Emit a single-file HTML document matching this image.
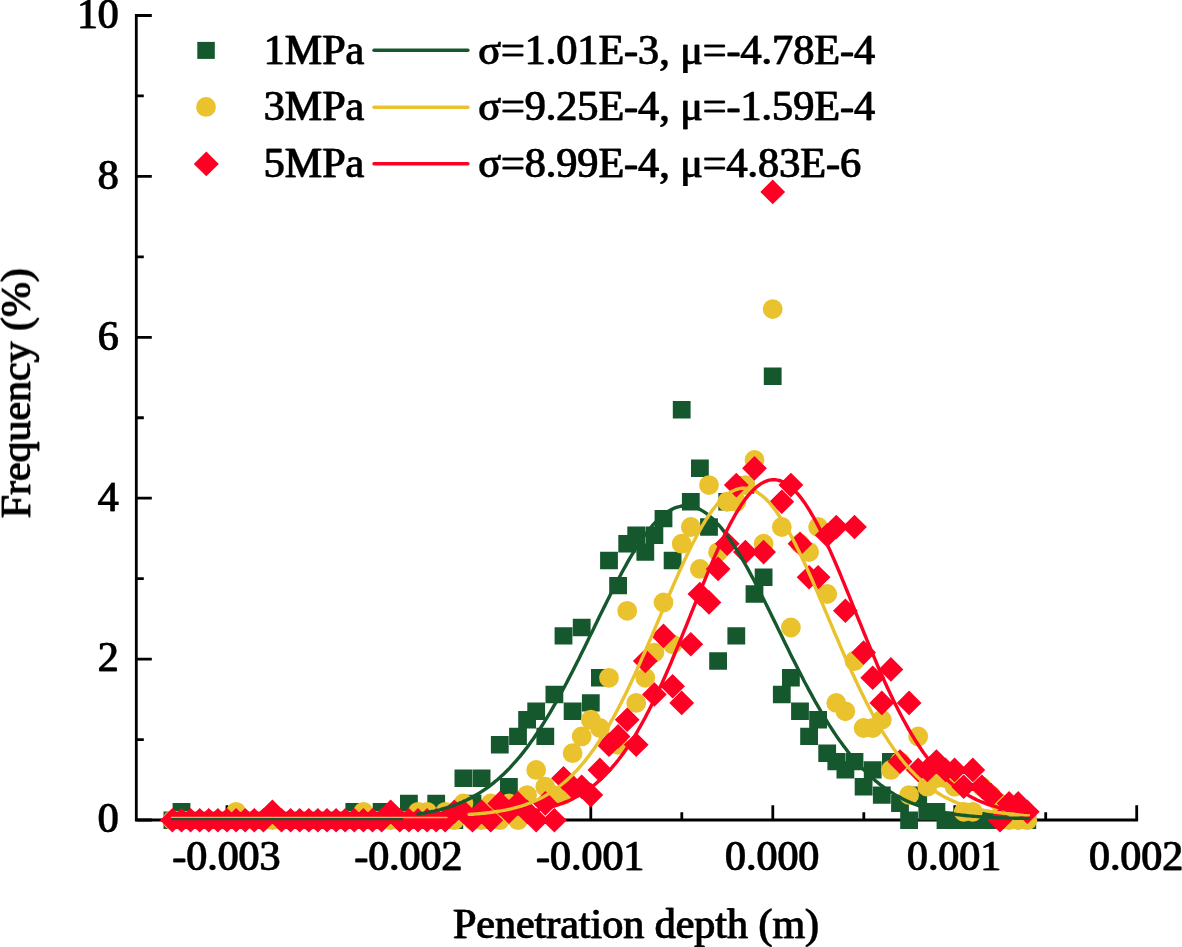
<!DOCTYPE html>
<html><head><meta charset="utf-8"><title>Penetration depth frequency</title>
<style>html,body{margin:0;padding:0;background:#fff;width:1182px;height:947px;overflow:hidden}svg{display:block}text{font-family:"Liberation Serif","Times New Roman",serif;fill:#000;stroke:#000;stroke-width:0.3px;filter:url(#bold)}</style></head><body>
<svg width="1182" height="947" viewBox="0 0 1182 947">
<defs><filter id="bold" x="-5%" y="-20%" width="110%" height="140%"><feOffset dx="1" dy="0" result="o"/><feMerge><feMergeNode in="SourceGraphic"/><feMergeNode in="o"/></feMerge></filter></defs>
<rect width="1182" height="947" fill="#fff"/>
<g id="axes"><path d="M136.3 14 V820.0 H1138.1" fill="none" stroke="#000" stroke-width="2.8"/><path d="M136.3 820.00h15.5M136.3 739.55h7.5M136.3 659.10h15.5M136.3 578.65h7.5M136.3 498.20h15.5M136.3 417.75h7.5M136.3 337.30h15.5M136.3 256.85h7.5M136.3 176.40h15.5M136.3 95.95h7.5M136.3 15.50h15.5M227.0 820.0v-14.8M317.9 820.0v-7.7M408.9 820.0v-14.8M499.9 820.0v-7.7M590.8 820.0v-14.8M681.8 820.0v-7.7M772.8 820.0v-14.8M863.8 820.0v-7.7M954.8 820.0v-14.8M1045.7 820.0v-7.7M1136.7 820.0v-14.8" fill="none" stroke="#000" stroke-width="2.8"/></g>
<g id="labels" font-size="41.9"><text x="118.3" y="832.3" text-anchor="end">0</text><text x="118.3" y="671.4" text-anchor="end">2</text><text x="118.3" y="510.5" text-anchor="end">4</text><text x="118.3" y="349.6" text-anchor="end">6</text><text x="118.3" y="188.7" text-anchor="end">8</text><text x="118.3" y="27.8" text-anchor="end">10</text><text x="225.9" y="869.6" text-anchor="middle">-0.003</text><text x="407.8" y="869.6" text-anchor="middle">-0.002</text><text x="589.7" y="869.6" text-anchor="middle">-0.001</text><text x="771.7" y="869.6" text-anchor="middle">0.000</text><text x="953.6" y="869.6" text-anchor="middle">0.001</text><text x="1135.6" y="869.6" text-anchor="middle">0.002</text><text x="635.5" y="937.6" text-anchor="middle" font-size="42">Penetration depth (m)</text><text transform="translate(30.0 393.7) rotate(-90)" text-anchor="middle" font-size="41.9">Frequency (%)</text></g>
<g id="scatter"><path fill="#15582d" d="M163.5 811.5h17.8v17.4h-17.8zM172.6 803.1h17.8v17.4h-17.8zM181.7 811.5h17.8v17.4h-17.8zM190.8 811.5h17.8v17.4h-17.8zM199.9 811.5h17.8v17.4h-17.8zM209.0 811.5h17.8v17.4h-17.8zM218.1 811.5h17.8v17.4h-17.8zM227.2 811.5h17.8v17.4h-17.8zM236.3 811.5h17.8v17.4h-17.8zM245.4 811.5h17.8v17.4h-17.8zM254.5 811.5h17.8v17.4h-17.8zM263.5 811.5h17.8v17.4h-17.8zM272.6 811.5h17.8v17.4h-17.8zM281.7 811.5h17.8v17.4h-17.8zM290.8 811.5h17.8v17.4h-17.8zM299.9 811.5h17.8v17.4h-17.8zM309.0 811.5h17.8v17.4h-17.8zM318.1 811.5h17.8v17.4h-17.8zM327.2 811.5h17.8v17.4h-17.8zM336.3 811.5h17.8v17.4h-17.8zM345.4 803.1h17.8v17.4h-17.8zM354.5 811.5h17.8v17.4h-17.8zM363.6 811.5h17.8v17.4h-17.8zM372.7 803.1h17.8v17.4h-17.8zM381.8 811.5h17.8v17.4h-17.8zM390.9 811.5h17.8v17.4h-17.8zM400.0 794.7h17.8v17.4h-17.8zM409.1 811.5h17.8v17.4h-17.8zM418.2 811.5h17.8v17.4h-17.8zM427.3 794.7h17.8v17.4h-17.8zM436.4 811.5h17.8v17.4h-17.8zM445.4 811.5h17.8v17.4h-17.8zM454.5 769.6h17.8v17.4h-17.8zM463.6 794.7h17.8v17.4h-17.8zM472.7 769.6h17.8v17.4h-17.8zM481.8 811.5h17.8v17.4h-17.8zM490.9 736.1h17.8v17.4h-17.8zM500.0 778.0h17.8v17.4h-17.8zM509.1 727.7h17.8v17.4h-17.8zM518.2 711.0h17.8v17.4h-17.8zM527.3 702.6h17.8v17.4h-17.8zM536.4 727.7h17.8v17.4h-17.8zM545.5 685.8h17.8v17.4h-17.8zM554.6 627.2h17.8v17.4h-17.8zM563.7 702.6h17.8v17.4h-17.8zM572.8 618.8h17.8v17.4h-17.8zM581.9 694.2h17.8v17.4h-17.8zM591.0 669.1h17.8v17.4h-17.8zM600.1 551.8h17.8v17.4h-17.8zM609.2 576.9h17.8v17.4h-17.8zM618.3 535.0h17.8v17.4h-17.8zM627.3 526.6h17.8v17.4h-17.8zM636.4 543.4h17.8v17.4h-17.8zM645.5 526.6h17.8v17.4h-17.8zM654.6 509.9h17.8v17.4h-17.8zM663.7 551.8h17.8v17.4h-17.8zM672.8 401.0h17.8v17.4h-17.8zM681.9 493.1h17.8v17.4h-17.8zM691.0 459.6h17.8v17.4h-17.8zM700.1 518.3h17.8v17.4h-17.8zM709.2 652.3h17.8v17.4h-17.8zM718.3 493.1h17.8v17.4h-17.8zM727.4 627.2h17.8v17.4h-17.8zM736.5 476.4h17.8v17.4h-17.8zM745.6 585.3h17.8v17.4h-17.8zM754.7 568.5h17.8v17.4h-17.8zM763.8 367.5h17.8v17.4h-17.8zM772.9 685.8h17.8v17.4h-17.8zM782.0 669.1h17.8v17.4h-17.8zM791.1 702.6h17.8v17.4h-17.8zM800.2 727.7h17.8v17.4h-17.8zM809.2 711.0h17.8v17.4h-17.8zM818.3 744.5h17.8v17.4h-17.8zM827.4 752.9h17.8v17.4h-17.8zM836.5 761.2h17.8v17.4h-17.8zM845.6 752.9h17.8v17.4h-17.8zM854.7 778.0h17.8v17.4h-17.8zM863.8 761.2h17.8v17.4h-17.8zM872.9 786.4h17.8v17.4h-17.8zM882.0 752.9h17.8v17.4h-17.8zM891.1 794.7h17.8v17.4h-17.8zM900.2 811.5h17.8v17.4h-17.8zM909.3 786.4h17.8v17.4h-17.8zM918.4 803.1h17.8v17.4h-17.8zM927.5 803.1h17.8v17.4h-17.8zM936.6 811.5h17.8v17.4h-17.8zM945.7 811.5h17.8v17.4h-17.8zM954.8 811.5h17.8v17.4h-17.8zM963.9 811.5h17.8v17.4h-17.8zM973.0 811.5h17.8v17.4h-17.8zM982.1 811.5h17.8v17.4h-17.8zM991.1 811.5h17.8v17.4h-17.8zM1000.2 811.5h17.8v17.4h-17.8zM1009.3 811.5h17.8v17.4h-17.8zM1018.4 811.5h17.8v17.4h-17.8z"/>
<path fill="#e9c22e" d="M162.5 820.2a9.9 9.9 0 1 0 19.8 0a9.9 9.9 0 1 0 -19.8 0zM171.6 820.2a9.9 9.9 0 1 0 19.8 0a9.9 9.9 0 1 0 -19.8 0zM180.7 820.2a9.9 9.9 0 1 0 19.8 0a9.9 9.9 0 1 0 -19.8 0zM189.8 820.2a9.9 9.9 0 1 0 19.8 0a9.9 9.9 0 1 0 -19.8 0zM198.9 820.2a9.9 9.9 0 1 0 19.8 0a9.9 9.9 0 1 0 -19.8 0zM208.0 820.2a9.9 9.9 0 1 0 19.8 0a9.9 9.9 0 1 0 -19.8 0zM217.1 820.2a9.9 9.9 0 1 0 19.8 0a9.9 9.9 0 1 0 -19.8 0zM226.2 811.8a9.9 9.9 0 1 0 19.8 0a9.9 9.9 0 1 0 -19.8 0zM235.3 820.2a9.9 9.9 0 1 0 19.8 0a9.9 9.9 0 1 0 -19.8 0zM244.4 820.2a9.9 9.9 0 1 0 19.8 0a9.9 9.9 0 1 0 -19.8 0zM253.5 820.2a9.9 9.9 0 1 0 19.8 0a9.9 9.9 0 1 0 -19.8 0zM262.5 820.2a9.9 9.9 0 1 0 19.8 0a9.9 9.9 0 1 0 -19.8 0zM271.6 820.2a9.9 9.9 0 1 0 19.8 0a9.9 9.9 0 1 0 -19.8 0zM280.7 820.2a9.9 9.9 0 1 0 19.8 0a9.9 9.9 0 1 0 -19.8 0zM289.8 820.2a9.9 9.9 0 1 0 19.8 0a9.9 9.9 0 1 0 -19.8 0zM298.9 820.2a9.9 9.9 0 1 0 19.8 0a9.9 9.9 0 1 0 -19.8 0zM308.0 820.2a9.9 9.9 0 1 0 19.8 0a9.9 9.9 0 1 0 -19.8 0zM317.1 820.2a9.9 9.9 0 1 0 19.8 0a9.9 9.9 0 1 0 -19.8 0zM326.2 820.2a9.9 9.9 0 1 0 19.8 0a9.9 9.9 0 1 0 -19.8 0zM335.3 820.2a9.9 9.9 0 1 0 19.8 0a9.9 9.9 0 1 0 -19.8 0zM344.4 820.2a9.9 9.9 0 1 0 19.8 0a9.9 9.9 0 1 0 -19.8 0zM353.5 811.8a9.9 9.9 0 1 0 19.8 0a9.9 9.9 0 1 0 -19.8 0zM362.6 820.2a9.9 9.9 0 1 0 19.8 0a9.9 9.9 0 1 0 -19.8 0zM371.7 820.2a9.9 9.9 0 1 0 19.8 0a9.9 9.9 0 1 0 -19.8 0zM380.8 820.2a9.9 9.9 0 1 0 19.8 0a9.9 9.9 0 1 0 -19.8 0zM389.9 820.2a9.9 9.9 0 1 0 19.8 0a9.9 9.9 0 1 0 -19.8 0zM399.0 820.2a9.9 9.9 0 1 0 19.8 0a9.9 9.9 0 1 0 -19.8 0zM408.1 811.8a9.9 9.9 0 1 0 19.8 0a9.9 9.9 0 1 0 -19.8 0zM417.2 811.8a9.9 9.9 0 1 0 19.8 0a9.9 9.9 0 1 0 -19.8 0zM426.3 820.2a9.9 9.9 0 1 0 19.8 0a9.9 9.9 0 1 0 -19.8 0zM435.4 811.8a9.9 9.9 0 1 0 19.8 0a9.9 9.9 0 1 0 -19.8 0zM444.4 820.2a9.9 9.9 0 1 0 19.8 0a9.9 9.9 0 1 0 -19.8 0zM453.5 803.4a9.9 9.9 0 1 0 19.8 0a9.9 9.9 0 1 0 -19.8 0zM462.6 820.2a9.9 9.9 0 1 0 19.8 0a9.9 9.9 0 1 0 -19.8 0zM471.7 820.2a9.9 9.9 0 1 0 19.8 0a9.9 9.9 0 1 0 -19.8 0zM480.8 803.4a9.9 9.9 0 1 0 19.8 0a9.9 9.9 0 1 0 -19.8 0zM489.9 820.2a9.9 9.9 0 1 0 19.8 0a9.9 9.9 0 1 0 -19.8 0zM499.0 803.4a9.9 9.9 0 1 0 19.8 0a9.9 9.9 0 1 0 -19.8 0zM508.1 820.2a9.9 9.9 0 1 0 19.8 0a9.9 9.9 0 1 0 -19.8 0zM517.2 795.1a9.9 9.9 0 1 0 19.8 0a9.9 9.9 0 1 0 -19.8 0zM526.3 769.9a9.9 9.9 0 1 0 19.8 0a9.9 9.9 0 1 0 -19.8 0zM535.4 786.7a9.9 9.9 0 1 0 19.8 0a9.9 9.9 0 1 0 -19.8 0zM544.5 795.1a9.9 9.9 0 1 0 19.8 0a9.9 9.9 0 1 0 -19.8 0zM553.6 795.1a9.9 9.9 0 1 0 19.8 0a9.9 9.9 0 1 0 -19.8 0zM562.7 753.2a9.9 9.9 0 1 0 19.8 0a9.9 9.9 0 1 0 -19.8 0zM571.8 736.4a9.9 9.9 0 1 0 19.8 0a9.9 9.9 0 1 0 -19.8 0zM580.9 719.7a9.9 9.9 0 1 0 19.8 0a9.9 9.9 0 1 0 -19.8 0zM590.0 728.0a9.9 9.9 0 1 0 19.8 0a9.9 9.9 0 1 0 -19.8 0zM599.1 677.8a9.9 9.9 0 1 0 19.8 0a9.9 9.9 0 1 0 -19.8 0zM608.2 744.8a9.9 9.9 0 1 0 19.8 0a9.9 9.9 0 1 0 -19.8 0zM617.3 610.8a9.9 9.9 0 1 0 19.8 0a9.9 9.9 0 1 0 -19.8 0zM626.3 702.9a9.9 9.9 0 1 0 19.8 0a9.9 9.9 0 1 0 -19.8 0zM635.4 677.8a9.9 9.9 0 1 0 19.8 0a9.9 9.9 0 1 0 -19.8 0zM644.5 652.6a9.9 9.9 0 1 0 19.8 0a9.9 9.9 0 1 0 -19.8 0zM653.6 602.4a9.9 9.9 0 1 0 19.8 0a9.9 9.9 0 1 0 -19.8 0zM662.7 644.3a9.9 9.9 0 1 0 19.8 0a9.9 9.9 0 1 0 -19.8 0zM671.8 543.7a9.9 9.9 0 1 0 19.8 0a9.9 9.9 0 1 0 -19.8 0zM680.9 527.0a9.9 9.9 0 1 0 19.8 0a9.9 9.9 0 1 0 -19.8 0zM690.0 568.9a9.9 9.9 0 1 0 19.8 0a9.9 9.9 0 1 0 -19.8 0zM699.1 485.1a9.9 9.9 0 1 0 19.8 0a9.9 9.9 0 1 0 -19.8 0zM708.2 552.1a9.9 9.9 0 1 0 19.8 0a9.9 9.9 0 1 0 -19.8 0zM717.3 501.8a9.9 9.9 0 1 0 19.8 0a9.9 9.9 0 1 0 -19.8 0zM726.4 501.8a9.9 9.9 0 1 0 19.8 0a9.9 9.9 0 1 0 -19.8 0zM735.5 485.1a9.9 9.9 0 1 0 19.8 0a9.9 9.9 0 1 0 -19.8 0zM744.6 459.9a9.9 9.9 0 1 0 19.8 0a9.9 9.9 0 1 0 -19.8 0zM753.7 543.7a9.9 9.9 0 1 0 19.8 0a9.9 9.9 0 1 0 -19.8 0zM762.8 309.1a9.9 9.9 0 1 0 19.8 0a9.9 9.9 0 1 0 -19.8 0zM771.9 527.0a9.9 9.9 0 1 0 19.8 0a9.9 9.9 0 1 0 -19.8 0zM781.0 627.5a9.9 9.9 0 1 0 19.8 0a9.9 9.9 0 1 0 -19.8 0zM790.1 543.7a9.9 9.9 0 1 0 19.8 0a9.9 9.9 0 1 0 -19.8 0zM799.2 552.1a9.9 9.9 0 1 0 19.8 0a9.9 9.9 0 1 0 -19.8 0zM808.2 527.0a9.9 9.9 0 1 0 19.8 0a9.9 9.9 0 1 0 -19.8 0zM817.3 594.0a9.9 9.9 0 1 0 19.8 0a9.9 9.9 0 1 0 -19.8 0zM826.4 702.9a9.9 9.9 0 1 0 19.8 0a9.9 9.9 0 1 0 -19.8 0zM835.5 711.3a9.9 9.9 0 1 0 19.8 0a9.9 9.9 0 1 0 -19.8 0zM844.6 661.0a9.9 9.9 0 1 0 19.8 0a9.9 9.9 0 1 0 -19.8 0zM853.7 728.0a9.9 9.9 0 1 0 19.8 0a9.9 9.9 0 1 0 -19.8 0zM862.8 728.0a9.9 9.9 0 1 0 19.8 0a9.9 9.9 0 1 0 -19.8 0zM871.9 719.7a9.9 9.9 0 1 0 19.8 0a9.9 9.9 0 1 0 -19.8 0zM881.0 769.9a9.9 9.9 0 1 0 19.8 0a9.9 9.9 0 1 0 -19.8 0zM890.1 761.6a9.9 9.9 0 1 0 19.8 0a9.9 9.9 0 1 0 -19.8 0zM899.2 795.1a9.9 9.9 0 1 0 19.8 0a9.9 9.9 0 1 0 -19.8 0zM908.3 736.4a9.9 9.9 0 1 0 19.8 0a9.9 9.9 0 1 0 -19.8 0zM917.4 786.7a9.9 9.9 0 1 0 19.8 0a9.9 9.9 0 1 0 -19.8 0zM926.5 778.3a9.9 9.9 0 1 0 19.8 0a9.9 9.9 0 1 0 -19.8 0zM935.6 778.3a9.9 9.9 0 1 0 19.8 0a9.9 9.9 0 1 0 -19.8 0zM944.7 786.7a9.9 9.9 0 1 0 19.8 0a9.9 9.9 0 1 0 -19.8 0zM953.8 811.8a9.9 9.9 0 1 0 19.8 0a9.9 9.9 0 1 0 -19.8 0zM962.9 811.8a9.9 9.9 0 1 0 19.8 0a9.9 9.9 0 1 0 -19.8 0zM972.0 786.7a9.9 9.9 0 1 0 19.8 0a9.9 9.9 0 1 0 -19.8 0zM981.1 795.1a9.9 9.9 0 1 0 19.8 0a9.9 9.9 0 1 0 -19.8 0zM990.1 803.4a9.9 9.9 0 1 0 19.8 0a9.9 9.9 0 1 0 -19.8 0zM999.2 820.2a9.9 9.9 0 1 0 19.8 0a9.9 9.9 0 1 0 -19.8 0zM1008.3 820.2a9.9 9.9 0 1 0 19.8 0a9.9 9.9 0 1 0 -19.8 0zM1017.4 820.2a9.9 9.9 0 1 0 19.8 0a9.9 9.9 0 1 0 -19.8 0z"/>
<path fill="#fe0024" d="M172.4 807.9l12.4 12.3l-12.4 12.3l-12.4 -12.3zM181.5 807.9l12.4 12.3l-12.4 12.3l-12.4 -12.3zM190.6 807.9l12.4 12.3l-12.4 12.3l-12.4 -12.3zM199.7 807.9l12.4 12.3l-12.4 12.3l-12.4 -12.3zM208.8 807.9l12.4 12.3l-12.4 12.3l-12.4 -12.3zM217.9 807.9l12.4 12.3l-12.4 12.3l-12.4 -12.3zM227.0 807.9l12.4 12.3l-12.4 12.3l-12.4 -12.3zM236.1 807.9l12.4 12.3l-12.4 12.3l-12.4 -12.3zM245.2 807.9l12.4 12.3l-12.4 12.3l-12.4 -12.3zM254.3 807.9l12.4 12.3l-12.4 12.3l-12.4 -12.3zM263.4 807.9l12.4 12.3l-12.4 12.3l-12.4 -12.3zM272.4 799.5l12.4 12.3l-12.4 12.3l-12.4 -12.3zM281.5 807.9l12.4 12.3l-12.4 12.3l-12.4 -12.3zM290.6 807.9l12.4 12.3l-12.4 12.3l-12.4 -12.3zM299.7 807.9l12.4 12.3l-12.4 12.3l-12.4 -12.3zM308.8 807.9l12.4 12.3l-12.4 12.3l-12.4 -12.3zM317.9 807.9l12.4 12.3l-12.4 12.3l-12.4 -12.3zM327.0 807.9l12.4 12.3l-12.4 12.3l-12.4 -12.3zM336.1 807.9l12.4 12.3l-12.4 12.3l-12.4 -12.3zM345.2 807.9l12.4 12.3l-12.4 12.3l-12.4 -12.3zM354.3 807.9l12.4 12.3l-12.4 12.3l-12.4 -12.3zM363.4 807.9l12.4 12.3l-12.4 12.3l-12.4 -12.3zM372.5 807.9l12.4 12.3l-12.4 12.3l-12.4 -12.3zM381.6 807.9l12.4 12.3l-12.4 12.3l-12.4 -12.3zM390.7 799.5l12.4 12.3l-12.4 12.3l-12.4 -12.3zM399.8 807.9l12.4 12.3l-12.4 12.3l-12.4 -12.3zM408.9 807.9l12.4 12.3l-12.4 12.3l-12.4 -12.3zM418.0 807.9l12.4 12.3l-12.4 12.3l-12.4 -12.3zM427.1 807.9l12.4 12.3l-12.4 12.3l-12.4 -12.3zM436.2 807.9l12.4 12.3l-12.4 12.3l-12.4 -12.3zM445.2 807.9l12.4 12.3l-12.4 12.3l-12.4 -12.3zM454.3 799.5l12.4 12.3l-12.4 12.3l-12.4 -12.3zM463.4 799.5l12.4 12.3l-12.4 12.3l-12.4 -12.3zM472.5 807.9l12.4 12.3l-12.4 12.3l-12.4 -12.3zM481.6 799.5l12.4 12.3l-12.4 12.3l-12.4 -12.3zM490.7 807.9l12.4 12.3l-12.4 12.3l-12.4 -12.3zM499.8 791.1l12.4 12.3l-12.4 12.3l-12.4 -12.3zM508.9 799.5l12.4 12.3l-12.4 12.3l-12.4 -12.3zM518.0 791.1l12.4 12.3l-12.4 12.3l-12.4 -12.3zM527.1 799.5l12.4 12.3l-12.4 12.3l-12.4 -12.3zM536.2 807.9l12.4 12.3l-12.4 12.3l-12.4 -12.3zM545.3 791.1l12.4 12.3l-12.4 12.3l-12.4 -12.3zM554.4 807.9l12.4 12.3l-12.4 12.3l-12.4 -12.3zM563.5 766.0l12.4 12.3l-12.4 12.3l-12.4 -12.3zM572.6 774.4l12.4 12.3l-12.4 12.3l-12.4 -12.3zM581.7 774.4l12.4 12.3l-12.4 12.3l-12.4 -12.3zM590.8 782.8l12.4 12.3l-12.4 12.3l-12.4 -12.3zM599.9 757.6l12.4 12.3l-12.4 12.3l-12.4 -12.3zM609.0 732.5l12.4 12.3l-12.4 12.3l-12.4 -12.3zM618.1 724.1l12.4 12.3l-12.4 12.3l-12.4 -12.3zM627.2 707.4l12.4 12.3l-12.4 12.3l-12.4 -12.3zM636.2 732.5l12.4 12.3l-12.4 12.3l-12.4 -12.3zM645.3 648.7l12.4 12.3l-12.4 12.3l-12.4 -12.3zM654.4 682.2l12.4 12.3l-12.4 12.3l-12.4 -12.3zM663.5 623.6l12.4 12.3l-12.4 12.3l-12.4 -12.3zM672.6 673.9l12.4 12.3l-12.4 12.3l-12.4 -12.3zM681.7 690.6l12.4 12.3l-12.4 12.3l-12.4 -12.3zM690.8 632.0l12.4 12.3l-12.4 12.3l-12.4 -12.3zM699.9 581.7l12.4 12.3l-12.4 12.3l-12.4 -12.3zM709.0 590.1l12.4 12.3l-12.4 12.3l-12.4 -12.3zM718.1 556.6l12.4 12.3l-12.4 12.3l-12.4 -12.3zM727.2 531.4l12.4 12.3l-12.4 12.3l-12.4 -12.3zM736.3 472.8l12.4 12.3l-12.4 12.3l-12.4 -12.3zM745.4 539.8l12.4 12.3l-12.4 12.3l-12.4 -12.3zM754.5 456.0l12.4 12.3l-12.4 12.3l-12.4 -12.3zM763.6 539.8l12.4 12.3l-12.4 12.3l-12.4 -12.3zM772.7 179.6l12.4 12.3l-12.4 12.3l-12.4 -12.3zM781.8 489.5l12.4 12.3l-12.4 12.3l-12.4 -12.3zM790.9 472.8l12.4 12.3l-12.4 12.3l-12.4 -12.3zM800.0 531.4l12.4 12.3l-12.4 12.3l-12.4 -12.3zM809.1 564.9l12.4 12.3l-12.4 12.3l-12.4 -12.3zM818.1 564.9l12.4 12.3l-12.4 12.3l-12.4 -12.3zM827.2 523.0l12.4 12.3l-12.4 12.3l-12.4 -12.3zM836.3 514.7l12.4 12.3l-12.4 12.3l-12.4 -12.3zM845.4 598.5l12.4 12.3l-12.4 12.3l-12.4 -12.3zM854.5 514.7l12.4 12.3l-12.4 12.3l-12.4 -12.3zM863.6 640.3l12.4 12.3l-12.4 12.3l-12.4 -12.3zM872.7 665.5l12.4 12.3l-12.4 12.3l-12.4 -12.3zM881.8 690.6l12.4 12.3l-12.4 12.3l-12.4 -12.3zM890.9 657.1l12.4 12.3l-12.4 12.3l-12.4 -12.3zM900.0 749.3l12.4 12.3l-12.4 12.3l-12.4 -12.3zM909.1 690.6l12.4 12.3l-12.4 12.3l-12.4 -12.3zM918.2 757.6l12.4 12.3l-12.4 12.3l-12.4 -12.3zM927.3 757.6l12.4 12.3l-12.4 12.3l-12.4 -12.3zM936.4 749.3l12.4 12.3l-12.4 12.3l-12.4 -12.3zM945.5 757.6l12.4 12.3l-12.4 12.3l-12.4 -12.3zM954.6 757.6l12.4 12.3l-12.4 12.3l-12.4 -12.3zM963.7 774.4l12.4 12.3l-12.4 12.3l-12.4 -12.3zM972.8 757.6l12.4 12.3l-12.4 12.3l-12.4 -12.3zM981.9 774.4l12.4 12.3l-12.4 12.3l-12.4 -12.3zM991.0 782.8l12.4 12.3l-12.4 12.3l-12.4 -12.3zM1000.0 807.9l12.4 12.3l-12.4 12.3l-12.4 -12.3zM1009.1 791.1l12.4 12.3l-12.4 12.3l-12.4 -12.3zM1018.2 791.1l12.4 12.3l-12.4 12.3l-12.4 -12.3zM1027.3 799.5l12.4 12.3l-12.4 12.3l-12.4 -12.3z"/></g>
<g id="fits"><path d="M171 817.5H447.5" stroke="#e9c22e" stroke-width="1.3" fill="none"/><path d="M171 819.2H403" stroke="#15582d" stroke-width="2.2" fill="none"/>
<path fill="none" stroke="#15582d" stroke-width="3.4" stroke-linejoin="round" stroke-linecap="round" d="M418.0 814.0L420.0 813.7L422.1 813.4L424.1 813.1L426.1 812.7L428.2 812.3L430.2 811.9L432.2 811.5L434.3 811.1L436.3 810.6L438.4 810.1L440.4 809.6L442.4 809.0L444.5 808.4L446.5 807.8L448.5 807.2L450.6 806.5L452.6 805.8L454.6 805.1L456.7 804.3L458.7 803.5L460.7 802.7L462.8 801.8L464.8 800.9L466.8 799.9L468.9 798.9L470.9 797.9L472.9 796.8L475.0 795.6L477.0 794.4L479.1 793.2L481.1 791.9L483.1 790.6L485.2 789.2L487.2 787.8L489.2 786.3L491.3 784.7L493.3 783.1L495.3 781.4L497.4 779.7L499.4 777.9L501.4 776.1L503.5 774.2L505.5 772.2L507.5 770.2L509.6 768.1L511.6 765.9L513.6 763.7L515.7 761.4L517.7 759.0L519.8 756.6L521.8 754.1L523.8 751.6L525.9 748.9L527.9 746.2L529.9 743.5L532.0 740.6L534.0 737.7L536.0 734.8L538.1 731.7L540.1 728.6L542.1 725.5L544.2 722.2L546.2 718.9L548.2 715.6L550.3 712.2L552.3 708.7L554.3 705.2L556.4 701.6L558.4 697.9L560.5 694.2L562.5 690.5L564.5 686.7L566.6 682.8L568.6 678.9L570.6 675.0L572.7 671.0L574.7 667.0L576.7 663.0L578.8 658.9L580.8 654.8L582.8 650.7L584.9 646.6L586.9 642.4L588.9 638.2L591.0 634.1L593.0 629.9L595.0 625.7L597.1 621.5L599.1 617.3L601.1 613.2L603.2 609.0L605.2 604.9L607.3 600.8L609.3 596.7L611.3 592.7L613.4 588.7L615.4 584.8L617.4 580.8L619.5 577.0L621.5 573.2L623.5 569.5L625.6 565.8L627.6 562.2L629.6 558.7L631.7 555.2L633.7 551.8L635.7 548.6L637.8 545.4L639.8 542.3L641.9 539.3L643.9 536.4L645.9 533.7L648.0 531.0L650.0 528.5L652.0 526.0L654.1 523.7L656.1 521.6L658.1 519.5L660.2 517.6L662.2 515.8L664.2 514.2L666.3 512.7L668.3 511.3L670.3 510.1L672.4 509.1L674.4 508.1L676.4 507.4L678.5 506.8L680.5 506.3L682.5 506.0L684.6 505.8L686.6 505.8L688.7 505.9L690.7 506.2L692.7 506.6L694.8 507.2L696.8 508.0L698.8 508.8L700.9 509.9L702.9 511.1L704.9 512.4L707.0 513.9L709.0 515.5L711.0 517.2L713.1 519.1L715.1 521.1L717.1 523.3L719.2 525.5L721.2 527.9L723.2 530.4L725.3 533.1L727.3 535.8L729.4 538.7L731.4 541.6L733.4 544.7L735.5 547.9L737.5 551.1L739.5 554.5L741.6 557.9L743.6 561.4L745.6 565.0L747.7 568.6L749.7 572.4L751.7 576.1L753.8 580.0L755.8 583.9L757.8 587.8L759.9 591.8L761.9 595.8L764.0 599.9L766.0 604.0L768.0 608.1L770.1 612.3L772.1 616.4L774.1 620.6L776.2 624.8L778.2 629.0L780.2 633.1L782.3 637.3L784.3 641.5L786.3 645.6L788.4 649.8L790.4 653.9L792.4 658.0L794.5 662.1L796.5 666.1L798.5 670.1L800.6 674.1L802.6 678.1L804.6 682.0L806.7 685.8L808.7 689.6L810.8 693.4L812.8 697.1L814.8 700.8L816.9 704.4L818.9 707.9L820.9 711.4L823.0 714.8L825.0 718.2L827.0 721.5L829.1 724.8L831.1 727.9L833.1 731.0L835.2 734.1L837.2 737.1L839.2 740.0L841.3 742.8L843.3 745.6L845.4 748.3L847.4 751.0L849.4 753.6L851.5 756.1L853.5 758.5L855.5 760.9L857.6 763.2L859.6 765.4L861.6 767.6L863.7 769.7L865.7 771.8L867.7 773.8L869.8 775.7L871.8 777.5L873.8 779.3L875.9 781.1L877.9 782.7L879.9 784.4L882.0 785.9L884.0 787.4L886.0 788.9L888.1 790.3L890.1 791.6L892.2 792.9L894.2 794.2L896.2 795.4L898.3 796.5L900.3 797.6L902.3 798.7L904.4 799.7L906.4 800.7L908.4 801.6L910.5 802.5L912.5 803.3L914.5 804.1L916.6 804.9L918.6 805.7L920.6 806.4L922.7 807.0L924.7 807.7L926.8 808.3L928.8 808.9L930.8 809.4L932.9 810.0L934.9 810.5L936.9 811.0L939.0 811.4L941.0 811.8L943.0 812.2L945.1 812.6L947.1 813.0L949.1 813.3L951.2 813.7L953.2 814.0L955.2 814.3L957.3 814.6L959.3 814.8L961.3 815.1L963.4 815.3L965.4 815.5L967.5 815.7L969.5 815.9L971.5 816.1L973.6 816.3L975.6 816.4L977.6 816.6L979.7 816.7L981.7 816.9L983.7 817.0L985.8 817.1L987.8 817.2L989.8 817.3L991.9 817.4L993.9 817.5L995.9 817.6L998.0 817.7L1000.0 817.8L1002.0 817.8L1004.1 817.9L1006.1 817.9L1008.1 818.0L1010.2 818.1L1012.2 818.1L1014.3 818.2L1016.3 818.2L1018.3 818.2L1020.4 818.3L1022.4 818.3L1024.4 818.3L1026.5 818.4L1028.5 818.4"/>
<path fill="none" stroke="#e9c22e" stroke-width="3.4" stroke-linejoin="round" stroke-linecap="round" d="M469.0 814.4L470.9 814.3L472.7 814.2L474.6 814.0L476.5 813.9L478.3 813.7L480.2 813.6L482.1 813.4L483.9 813.2L485.8 813.0L487.6 812.8L489.5 812.6L491.4 812.3L493.2 812.1L495.1 811.8L497.0 811.5L498.8 811.3L500.7 810.9L502.6 810.6L504.4 810.3L506.3 809.9L508.2 809.5L510.0 809.1L511.9 808.6L513.8 808.2L515.6 807.7L517.5 807.2L519.4 806.6L521.2 806.1L523.1 805.5L525.0 804.9L526.8 804.2L528.7 803.5L530.5 802.8L532.4 802.0L534.3 801.2L536.1 800.4L538.0 799.5L539.9 798.6L541.7 797.7L543.6 796.7L545.5 795.6L547.3 794.5L549.2 793.4L551.1 792.2L552.9 791.0L554.8 789.7L556.7 788.4L558.5 787.0L560.4 785.5L562.2 784.0L564.1 782.5L566.0 780.9L567.8 779.2L569.7 777.5L571.6 775.7L573.4 773.8L575.3 771.9L577.2 769.9L579.0 767.8L580.9 765.7L582.8 763.5L584.6 761.3L586.5 758.9L588.4 756.5L590.2 754.1L592.1 751.5L594.0 748.9L595.8 746.2L597.7 743.5L599.5 740.6L601.4 737.7L603.3 734.8L605.1 731.7L607.0 728.6L608.9 725.4L610.7 722.2L612.6 718.9L614.5 715.5L616.3 712.0L618.2 708.5L620.1 704.9L621.9 701.2L623.8 697.5L625.7 693.7L627.5 689.9L629.4 686.0L631.3 682.1L633.1 678.1L635.0 674.0L636.9 669.9L638.7 665.8L640.6 661.6L642.4 657.4L644.3 653.2L646.2 648.9L648.0 644.6L649.9 640.2L651.8 635.9L653.6 631.5L655.5 627.1L657.4 622.7L659.2 618.3L661.1 613.9L663.0 609.5L664.8 605.1L666.7 600.7L668.6 596.3L670.4 592.0L672.3 587.7L674.1 583.4L676.0 579.1L677.9 574.9L679.7 570.8L681.6 566.6L683.5 562.6L685.3 558.6L687.2 554.6L689.1 550.8L690.9 547.0L692.8 543.3L694.7 539.7L696.5 536.1L698.4 532.7L700.3 529.3L702.1 526.1L704.0 523.0L705.9 519.9L707.7 517.0L709.6 514.3L711.5 511.6L713.3 509.1L715.2 506.7L717.0 504.4L718.9 502.3L720.8 500.3L722.6 498.4L724.5 496.7L726.4 495.2L728.2 493.8L730.1 492.5L732.0 491.4L733.8 490.5L735.7 489.7L737.6 489.1L739.4 488.6L741.3 488.3L743.2 488.2L745.0 488.2L746.9 488.4L748.8 488.7L750.6 489.2L752.5 489.9L754.3 490.7L756.2 491.6L758.1 492.8L759.9 494.1L761.8 495.5L763.7 497.1L765.5 498.8L767.4 500.7L769.3 502.7L771.1 504.9L773.0 507.2L774.9 509.6L776.7 512.2L778.6 514.9L780.5 517.7L782.3 520.6L784.2 523.7L786.0 526.8L787.9 530.1L789.8 533.5L791.6 536.9L793.5 540.5L795.4 544.1L797.2 547.9L799.1 551.7L801.0 555.6L802.8 559.5L804.7 563.5L806.6 567.6L808.4 571.7L810.3 575.9L812.2 580.1L814.0 584.4L815.9 588.7L817.8 593.0L819.6 597.4L821.5 601.7L823.4 606.1L825.2 610.5L827.1 614.9L828.9 619.3L830.8 623.7L832.7 628.1L834.5 632.5L836.4 636.9L838.3 641.2L840.1 645.6L842.0 649.9L843.9 654.2L845.7 658.4L847.6 662.6L849.5 666.8L851.3 670.9L853.2 675.0L855.1 679.0L856.9 683.0L858.8 686.9L860.6 690.8L862.5 694.6L864.4 698.4L866.2 702.1L868.1 705.7L870.0 709.3L871.8 712.8L873.7 716.3L875.6 719.6L877.4 722.9L879.3 726.2L881.2 729.4L883.0 732.4L884.9 735.5L886.8 738.4L888.6 741.3L890.5 744.1L892.4 746.9L894.2 749.5L896.1 752.1L898.0 754.6L899.8 757.1L901.7 759.5L903.5 761.8L905.4 764.0L907.3 766.2L909.1 768.3L911.0 770.4L912.9 772.3L914.7 774.2L916.6 776.1L918.5 777.9L920.3 779.6L922.2 781.3L924.1 782.9L925.9 784.4L927.8 785.9L929.7 787.3L931.5 788.7L933.4 790.0L935.2 791.3L937.1 792.5L939.0 793.7L940.8 794.8L942.7 795.9L944.6 796.9L946.4 797.9L948.3 798.8L950.2 799.7L952.0 800.6L953.9 801.4L955.8 802.2L957.6 803.0L959.5 803.7L961.4 804.4L963.2 805.0L965.1 805.6L967.0 806.2L968.8 806.8L970.7 807.3L972.5 807.8L974.4 808.3L976.3 808.7L978.1 809.2L980.0 809.6L981.9 810.0L983.7 810.3L985.6 810.7L987.5 811.0L989.3 811.3L991.2 811.6L993.1 811.9L994.9 812.2L996.8 812.4L998.7 812.6L1000.5 812.8L1002.4 813.1L1004.3 813.2L1006.1 813.4L1008.0 813.6L1009.9 813.8L1011.7 813.9L1013.6 814.0L1015.4 814.2L1017.3 814.3L1019.2 814.4L1021.0 814.5L1022.9 814.6L1024.8 814.7L1026.6 814.8L1028.5 814.9"/>
<path fill="none" stroke="#fe0024" stroke-width="3.4" stroke-linejoin="round" stroke-linecap="round" d="M520.0 812.4L521.7 812.3L523.4 812.1L525.1 811.9L526.8 811.7L528.5 811.4L530.2 811.2L531.9 810.9L533.6 810.7L535.3 810.4L537.0 810.1L538.6 809.8L540.3 809.4L542.0 809.1L543.7 808.7L545.4 808.3L547.1 807.9L548.8 807.5L550.5 807.1L552.2 806.6L553.9 806.1L555.6 805.6L557.3 805.0L559.0 804.5L560.7 803.9L562.4 803.3L564.1 802.6L565.8 801.9L567.5 801.2L569.2 800.5L570.9 799.7L572.5 798.9L574.2 798.0L575.9 797.1L577.6 796.2L579.3 795.2L581.0 794.2L582.7 793.2L584.4 792.1L586.1 791.0L587.8 789.8L589.5 788.6L591.2 787.3L592.9 786.0L594.6 784.7L596.3 783.3L598.0 781.8L599.7 780.3L601.4 778.7L603.1 777.1L604.8 775.4L606.4 773.7L608.1 771.9L609.8 770.1L611.5 768.2L613.2 766.2L614.9 764.2L616.6 762.1L618.3 760.0L620.0 757.8L621.7 755.5L623.4 753.2L625.1 750.8L626.8 748.3L628.5 745.8L630.2 743.2L631.9 740.6L633.6 737.8L635.3 735.1L637.0 732.2L638.6 729.3L640.3 726.3L642.0 723.3L643.7 720.2L645.4 717.1L647.1 713.8L648.8 710.6L650.5 707.2L652.2 703.8L653.9 700.4L655.6 696.9L657.3 693.3L659.0 689.7L660.7 686.0L662.4 682.3L664.1 678.5L665.8 674.7L667.5 670.8L669.2 666.9L670.9 663.0L672.5 659.0L674.2 655.0L675.9 650.9L677.6 646.8L679.3 642.7L681.0 638.6L682.7 634.4L684.4 630.2L686.1 626.1L687.8 621.9L689.5 617.6L691.2 613.4L692.9 609.2L694.6 605.0L696.3 600.8L698.0 596.6L699.7 592.4L701.4 588.2L703.1 584.1L704.8 580.0L706.5 575.9L708.1 571.8L709.8 567.8L711.5 563.8L713.2 559.9L714.9 556.0L716.6 552.2L718.3 548.4L720.0 544.7L721.7 541.0L723.4 537.5L725.1 534.0L726.8 530.5L728.5 527.2L730.2 523.9L731.9 520.8L733.6 517.7L735.3 514.7L737.0 511.9L738.7 509.1L740.4 506.4L742.0 503.9L743.7 501.4L745.4 499.1L747.1 496.9L748.8 494.8L750.5 492.9L752.2 491.1L753.9 489.4L755.6 487.8L757.3 486.4L759.0 485.1L760.7 483.9L762.4 482.9L764.1 482.0L765.8 481.3L767.5 480.7L769.2 480.2L770.9 479.9L772.6 479.7L774.2 479.7L775.9 479.8L777.6 480.1L779.3 480.5L781.0 481.0L782.7 481.7L784.4 482.6L786.1 483.6L787.8 484.7L789.5 485.9L791.2 487.3L792.9 488.8L794.6 490.5L796.3 492.3L798.0 494.2L799.7 496.2L801.4 498.4L803.1 500.7L804.8 503.1L806.5 505.6L808.1 508.2L809.8 510.9L811.5 513.8L813.2 516.7L814.9 519.8L816.6 522.9L818.3 526.1L820.0 529.4L821.7 532.8L823.4 536.3L825.1 539.9L826.8 543.5L828.5 547.2L830.2 550.9L831.9 554.7L833.6 558.6L835.3 562.5L837.0 566.5L838.7 570.5L840.4 574.5L842.0 578.6L843.7 582.7L845.4 586.9L847.1 591.0L848.8 595.2L850.5 599.4L852.2 603.6L853.9 607.8L855.6 612.1L857.3 616.3L859.0 620.5L860.7 624.7L862.4 628.9L864.1 633.1L865.8 637.2L867.5 641.4L869.2 645.5L870.9 649.6L872.6 653.6L874.3 657.7L876.0 661.7L877.6 665.6L879.3 669.5L881.0 673.4L882.7 677.3L884.4 681.0L886.1 684.8L887.8 688.5L889.5 692.1L891.2 695.7L892.9 699.2L894.6 702.7L896.3 706.1L898.0 709.5L899.7 712.8L901.4 716.0L903.1 719.2L904.8 722.3L906.5 725.4L908.2 728.4L909.9 731.3L911.5 734.1L913.2 736.9L914.9 739.7L916.6 742.3L918.3 745.0L920.0 747.5L921.7 750.0L923.4 752.4L925.1 754.7L926.8 757.0L928.5 759.3L930.2 761.4L931.9 763.5L933.6 765.6L935.3 767.5L937.0 769.5L938.7 771.3L940.4 773.1L942.1 774.9L943.8 776.6L945.4 778.2L947.1 779.8L948.8 781.3L950.5 782.8L952.2 784.2L953.9 785.6L955.6 786.9L957.3 788.2L959.0 789.4L960.7 790.6L962.4 791.8L964.1 792.9L965.8 793.9L967.5 794.9L969.2 795.9L970.9 796.8L972.6 797.7L974.3 798.6L976.0 799.4L977.6 800.2L979.3 801.0L981.0 801.7L982.7 802.4L984.4 803.0L986.1 803.7L987.8 804.3L989.5 804.9L991.2 805.4L992.9 805.9L994.6 806.4L996.3 806.9L998.0 807.4L999.7 807.8L1001.4 808.2L1003.1 808.6L1004.8 809.0L1006.5 809.3L1008.2 809.7L1009.9 810.0L1011.5 810.3L1013.2 810.6L1014.9 810.8L1016.6 811.1L1018.3 811.3L1020.0 811.6L1021.7 811.8L1023.4 812.0L1025.1 812.2L1026.8 812.4L1028.5 812.6"/></g>
<g id="legend" font-size="42"><rect x="197.3" y="41.9" width="17.5" height="17" fill="#15582d"/><circle cx="206" cy="106.9" r="9.9" fill="#e9c22e"/><path d="M206.3 151.6l12.5 12.3l-12.5 12.3l-12.5 -12.3z" fill="#fe0024"/><path d="M374 50.2H467.9" stroke="#15582d" stroke-width="3.4" stroke-linecap="round" fill="none"/><path d="M374 107.2H467.9" stroke="#e9c22e" stroke-width="3.4" stroke-linecap="round" fill="none"/><path d="M374 163.7H467.9" stroke="#fe0024" stroke-width="3.4" stroke-linecap="round" fill="none"/><text x="263.3" y="63.6">1MPa</text><text x="477.8" y="63.6" font-size="42.1">σ=1.01E-3, μ=-4.78E-4</text><text x="263.3" y="120">3MPa</text><text x="477.8" y="120" font-size="42.1">σ=9.25E-4, μ=-1.59E-4</text><text x="263.3" y="176.7">5MPa</text><text x="477.8" y="176.7" font-size="42.1">σ=8.99E-4, μ=4.83E-6</text></g>
</svg>
</body></html>
